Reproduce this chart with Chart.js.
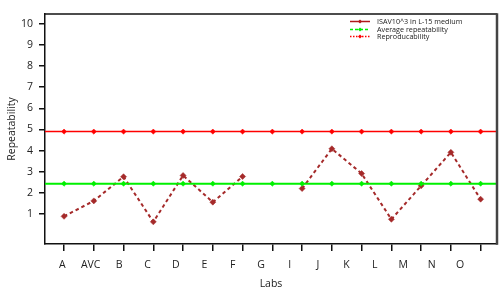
<!DOCTYPE html>
<html>
<head>
<meta charset="utf-8">
<script src="https://cdn.jsdelivr.net/npm/chart.js@4.4.1/dist/chart.umd.min.js"></script>
<style>
  html, body { margin: 0; padding: 0; background: #fff; }
  #wrap { position: relative; width: 504px; height: 304px; }
  #legend { position: absolute; left: 350px; top: 18px; font-family: "Open Sans", sans-serif; font-size: 7.2px; color: #222; line-height: 7.5px; }
  #legend .row { display: flex; align-items: center; height: 7.5px; white-space: nowrap; }
  #legend svg { width: 20px; height: 7px; margin-right: 7px; display: block; }
</style>
</head>
<body>
<div id="wrap">
  <canvas id="c" width="504" height="304"></canvas>
  <div id="legend"></div>
</div>
<script>
// ---- data ----
const labs = ["A","AVC","B","C","D","E","F","G","I","J","K","L","M","N","O"];
const seriesNames = ["ISAV10^3 in L-15 medium", "Average repeatability", "Reproducability"];
const isavMedium = [4.9,4.9,4.9,4.9,4.9,4.9,4.9,4.9,4.9,4.9,4.9,4.9,4.9,4.9,4.9];
const avgRepeatability = [2.44,2.44,2.44,2.44,2.44,2.44,2.44,2.44,2.44,2.44,2.44,2.44,2.44,2.44,2.44];
const reproducibility = [0.9,1.63,2.77,0.64,2.83,1.57,2.78,null,2.21,4.09,2.92,0.76,2.34,3.92,1.71];
const yTicks = [1,2,3,4,5,6,7,8,9,10];

// ---- layout constants ----
const X_MIN = -0.64, X_MAX = 14.55;
const Y_MIN = -0.405, Y_MAX = 10.45;
const LABEL_START = -0.06, LABEL_STEP = 0.955;
const FONT = "'Open Sans', sans-serif";
const TXT = "#222";

function pts(arr) { return arr.map((y, i) => ({ x: i, y: y })); }
function refLine(arr) {
  // horizontal reference line spanning the whole plot, markers only at labs
  return [{ x: X_MIN - 1, y: arr[0] }, ...pts(arr), { x: X_MAX + 1, y: arr[arr.length - 1] }];
}
function refRadius(arr, r) { return [0, ...arr.map(() => r), 0]; }

const frame = {
  id: 'frame',
  afterDraw(chart) {
    const { ctx, chartArea: a } = chart;
    ctx.save();
    ctx.strokeStyle = '#111';
    ctx.lineWidth = 1.5;
    ctx.beginPath();
    ctx.moveTo(a.left, a.top);
    ctx.lineTo(a.right, a.top);
    ctx.stroke();
    ctx.strokeStyle = '#444';
    ctx.lineWidth = 2.5;
    ctx.beginPath();
    ctx.moveTo(a.right, a.top - 0.75);
    ctx.lineTo(a.right, a.bottom + 0.75);
    ctx.stroke();
    ctx.restore();
  }
};

const colors = ["#ff0000", "#00f000", "#a52a2a"];

new Chart(document.getElementById('c'), {
  type: 'line',
  data: {
    datasets: [
      {
        label: seriesNames[0], data: refLine(isavMedium),
        borderColor: colors[0], backgroundColor: colors[0], borderWidth: 1.5,
        pointStyle: 'rectRot', pointRadius: refRadius(isavMedium, 2.6), pointBorderWidth: 0.5
      },
      {
        label: seriesNames[1], data: refLine(avgRepeatability),
        borderColor: colors[1], backgroundColor: colors[1], borderWidth: 2,
        pointStyle: 'rectRot', pointRadius: refRadius(avgRepeatability, 2.6), pointBorderWidth: 0.5
      },
      {
        label: seriesNames[2], data: pts(reproducibility),
        borderColor: colors[2], backgroundColor: colors[2], borderWidth: 2, borderDash: [3.5, 3],
        pointStyle: 'rectRot', pointRadius: 3, pointBorderWidth: 0.5, spanGaps: false
      }
    ]
  },
  options: {
    responsive: false, animation: false,
    layout: { padding: { left: 0, top: 14, right: 7, bottom: 0 } },
    plugins: { legend: { display: false }, tooltip: { enabled: false } },
    elements: { line: { tension: 0 } },
    scales: {
      x: {
        type: 'linear', position: 'bottom', min: X_MIN, max: X_MAX, weight: 0,
        afterBuildTicks(s) { s.ticks = labs.map((_, i) => ({ value: i })); },
        afterFit(s) { s.height = 7; },
        ticks: { display: false },
        grid: { drawOnChartArea: false, color: '#111', lineWidth: 1.5, tickLength: 7 },
        border: { color: '#111', width: 1.5 }
      },
      x2: {
        type: 'linear', position: 'bottom', min: X_MIN, max: X_MAX, weight: 1,
        afterBuildTicks(s) { s.ticks = labs.map((_, i) => ({ value: LABEL_START + i * LABEL_STEP })); },
        afterFit(s) { s.height = 53; },
        ticks: {
          autoSkip: false, maxRotation: 0, minRotation: 0, padding: 8, color: TXT,
          font: { family: FONT, size: 10.5 },
          callback: (v, i) => labs[i]
        },
        grid: { display: false, drawTicks: false },
        border: { display: false },
        title: { display: true, text: 'Labs', color: TXT, font: { family: FONT, size: 10.5 }, padding: { top: 0, bottom: 14 } }
      },
      y: {
        type: 'linear', min: Y_MIN, max: Y_MAX,
        afterBuildTicks(s) { s.ticks = yTicks.map(v => ({ value: v })); },
        afterFit(s) { s.width = 45; },
        ticks: { color: TXT, font: { family: FONT, size: 10.5 }, padding: 6, callback: v => String(v) },
        grid: { drawOnChartArea: false, color: '#111', lineWidth: 1.5, tickLength: 6 },
        border: { color: '#111', width: 1.5 },
        title: { display: true, text: 'Repeatability', color: TXT, font: { family: FONT, size: 10.5 }, padding: { top: 5.5, bottom: 0 } }
      }
    }
  },
  plugins: [frame]
});

// ---- legend (HTML text) ----
const legendSamples = [
  '<line x1="0" y1="3.5" x2="20" y2="3.5" stroke="#b01818" stroke-width="1.5"/><path d="M10 1.5 L12 3.5 L10 5.5 L8 3.5Z" fill="#b01818"/>',
  '<line x1="0" y1="3.5" x2="20" y2="3.5" stroke="#00ee00" stroke-width="1.5" stroke-dasharray="3 2"/><path d="M10 1.5 L12 3.5 L10 5.5 L8 3.5Z" fill="#00ee00"/>',
  '<line x1="0" y1="3.5" x2="20" y2="3.5" stroke="#ff0000" stroke-width="1.5" stroke-dasharray="1.5 1.5"/><path d="M10 1.5 L12 3.5 L10 5.5 L8 3.5Z" fill="#ff0000"/>'
];
document.getElementById('legend').innerHTML = seriesNames.map((n, i) =>
  '<div class="row"><svg viewBox="0 0 20 7">' + legendSamples[i] + '</svg><span>' + n + '</span></div>'
).join('');
</script>
</body>
</html>
